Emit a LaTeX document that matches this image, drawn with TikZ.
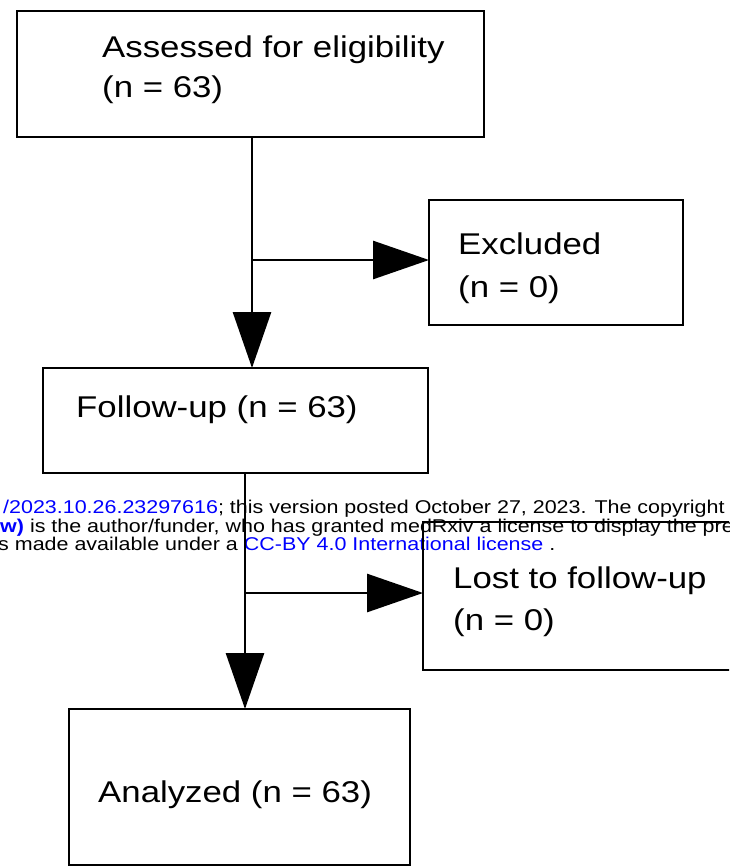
\documentclass[tikz,border=0pt]{standalone}
\usepackage{fontspec}
\setmainfont{Liberation Sans}[FakeStretch=1.16]
\usetikzlibrary{arrows.meta}
\begin{document}
\begin{tikzpicture}[x=1pt,y=-1pt,
  box/.style={draw, line width=2.8pt, rectangle, inner sep=0pt, outer sep=0pt},
  lbl/.style={anchor=base west, inner sep=0pt, font=\fontsize{30}{36}\selectfont},
  wm/.style={anchor=base west, inner sep=0pt, font=\fontsize{18.5}{20}\selectfont},
  conn/.style={line width=2.8pt},
  arr/.style={conn, -{Triangle[length=56pt,width=38pt]}}
]
\useasboundingbox (0,0) rectangle (729,868);
\clip (0,0) rectangle (729,868);
% watermark text
\node[wm] (w1) at (3,513) {\textcolor{blue}{/2023.10.26.23297616}; this version posted October 27, 2023. The copyright h};
\node[wm] (w2) at (0,532) {\textcolor{blue}{\bfseries w)} is the author/funder, who has granted medRxiv a license to display the pre};
\node[wm] (w3) at (-2,550) {s made available under a \textcolor{blue}{CC-BY 4.0 International license} .};
% boxes
\node[box, minimum width=467pt, minimum height=126pt] (A) at (250.5,74) {};
\node[box, minimum width=254pt, minimum height=125pt] (E) at (556,262.5) {};
\node[box, minimum width=385pt, minimum height=105pt] (F) at (235.5,420.5) {};
\node[box, minimum width=337pt, minimum height=148pt] (L) at (591.5,596) {};
\node[box, minimum width=341pt, minimum height=156pt] (Z) at (239.5,787) {};
% labels
\node[lbl] (ta1) at (102,57) {Assessed for eligibility};
\node[lbl] (ta2) at (102,97) {(n = 63)};
\node[lbl] (te1) at (458,254) {Excluded};
\node[lbl] (te2) at (458,297) {(n = 0)};
\node[lbl] (tf) at (76,417) {Follow-up (n = 63)};
\node[lbl] (tl1) at (453,588) {Lost to follow-up};
\node[lbl] (tl2) at (453,630) {(n = 0)};
\node[lbl] (tz) at (98,802) {Analyzed (n = 63)};
% connectors
\coordinate (j1) at (252,260);
\coordinate (j2) at (245,593);
\draw[conn] (A.south -| j1) -- (j1);
\draw[arr] (j1) -- (F.north -| j1);
\draw[arr] (j1) -- (E.west |- j1);
\draw[conn] (F.south -| j2) -- (j2);
\draw[arr] (j2) -- (Z.north -| j2);
\draw[arr] (j2) -- (L.west |- j2);
\end{tikzpicture}
\end{document}
